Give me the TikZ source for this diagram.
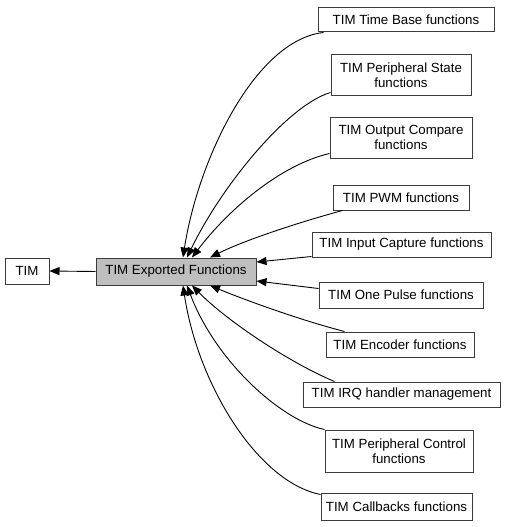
\documentclass[tikz,border=0pt]{standalone}
\usepackage{fontspec}
\setmainfont{Liberation Sans}
\usetikzlibrary{arrows.meta}
\definecolor{exportedgray}{RGB}{191,191,191}
\definecolor{boxborder}{RGB}{60,60,60}

\begin{document}
\begin{tikzpicture}[x=1pt, y=-1pt,
    font=\fontsize{13.3}{15.5}\selectfont,
    grp/.style={draw=boxborder, line width=1pt, fill=white, inner sep=0pt, align=center},
    dep/.style={line width=0.9pt, -{Triangle[length=10pt,width=8pt]}}]
  % Canvas: 1pt = 1px of the reference
  \useasboundingbox (0,0) rectangle (504,527);

  % Module boxes
  \node[grp, minimum width=44, minimum height=26] (tim) at (27,271) {TIM};
  \node[grp, fill=exportedgray, minimum width=160, minimum height=27] (ex) at (176,271.5) {TIM Exported Functions};

  \node[grp, minimum width=176, minimum height=24] (tb)  at (406,20)    {TIM Time Base functions};
  \node[grp, minimum width=140, minimum height=40] (ps)  at (401,75)    {TIM Peripheral State\\functions};
  \node[grp, minimum width=142, minimum height=41] (oc)  at (401,137.5) {TIM Output Compare\\functions};
  \node[grp, minimum width=136, minimum height=25] (pwm) at (401,197.5) {TIM PWM functions};
  \node[grp, minimum width=179, minimum height=25] (ic)  at (401.5,244.5) {TIM Input Capture functions};
  \node[grp, minimum width=164, minimum height=26] (op)  at (401,295)   {TIM One Pulse functions};
  \node[grp, minimum width=148, minimum height=25] (enc) at (400,344.5) {TIM Encoder functions};
  \node[grp, minimum width=197, minimum height=25] (irq) at (401.5,394.5) {TIM IRQ handler management};
  \node[grp, minimum width=148, minimum height=42] (pc)  at (399,451)   {TIM Peripheral Control\\functions};
  \node[grp, minimum width=151, minimum height=27] (cb)  at (396.5,506.5) {TIM Callbacks functions};

  % Parent link
  \draw[dep] (ex.west) -- (tim.east);

  % Upper group links
  \draw[dep] ([xshift=6pt]tb.south west) .. controls (255,40) and (198,160) .. ([xshift=7pt]ex.north);
  \draw[dep] ([yshift=3pt]ps.south west) .. controls (288,105) and (222,185) .. ([xshift=11pt]ex.north);
  \draw[dep] ([yshift=5pt]oc.south west) .. controls (280,165) and (228,210) .. ([xshift=16pt]ex.north);
  \draw[dep] ([xshift=10pt]pwm.south west) .. controls (300,222) and (245,240) .. ([xshift=34pt]ex.north);

  % Side links
  \draw[dep] ([yshift=1pt]ic.south west) -- ([yshift=9.5pt]ex.east);
  \draw[dep] ([yshift=-7pt]op.north west) -- ([yshift=-9.5pt]ex.east);

  % Lower group links
  \draw[dep] ([xshift=19pt]enc.north west) .. controls (300,320) and (245,300) .. ([xshift=34pt]ex.south);
  \draw[dep] ([xshift=32pt]irq.north west) .. controls (288,362) and (226,320) .. ([xshift=16pt]ex.south);
  \draw[dep] (pc.north west) .. controls (280,420) and (215,360) .. ([xshift=11pt]ex.south);
  \draw[dep] ([yshift=-2pt]cb.north west) .. controls (258,482) and (198,385) .. ([xshift=7pt]ex.south);
\end{tikzpicture}
\end{document}
